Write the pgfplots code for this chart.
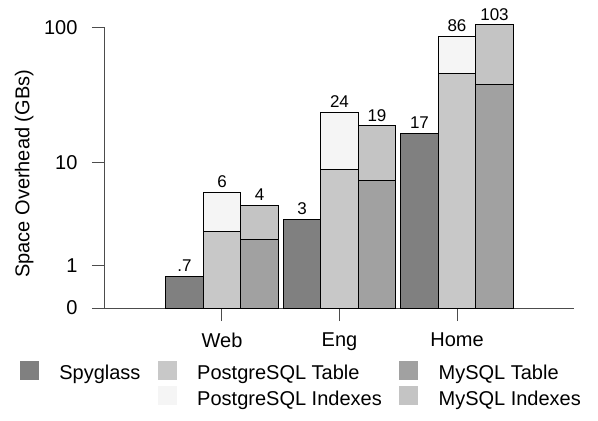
\documentclass[border=0pt]{standalone}
\usepackage{pgfplots}
\pgfplotsset{compat=1.18}
\usepackage{fontspec}
\setmainfont{Liberation Sans}
\definecolor{sgcol}{gray}{0.50}
\definecolor{pgtab}{gray}{0.785}
\definecolor{mytab}{gray}{0.63}
\definecolor{pgidx}{gray}{0.96}
\definecolor{myidx}{gray}{0.77}
\definecolor{axcol}{gray}{0.3}
\pgfplotsset{
  legsq/.style={legend image code/.code={\fill[##1, draw=none] (0pt,-5pt) rectangle (19pt,14pt);}},
  mybar/.style={ybar, bar width=37.5pt, draw=black, line width=1pt},
  barlab/.style={nodes near coords, point meta=explicit symbolic,
     every node near coord/.append style={font=\fontsize{17}{20}\selectfont, anchor=south, inner sep=4pt, black, xshift=#1}},
}
\begin{document}
\begin{tikzpicture}
\useasboundingbox (-105pt,-113pt) rectangle (493pt,308pt);
\begin{axis}[
  at={(0pt,0pt)}, anchor=south west,
  scale only axis, width=469pt, height=280.7pt,
  xmin=-0.9957, xmax=2.9957, ymin=0, ymax=100,
  y coord trafo/.code={\pgfmathparse{ln(#1+1)}},
  clip=false,
  axis x line=bottom, axis y line=left,
  axis line style={-, color=axcol, line width=1pt},
  tick style={color=axcol, line width=1pt},
  tick align=outside, major tick length=13pt,
  xtick={0,1,2}, xticklabels={Web,Eng,Home},
  ytick={0,1,10,100}, yticklabels={0,1,10,100},
  minor tick num=0,
  /pgf/number format/assume math mode=true,
  ticklabel style={font=\fontsize{20}{24}\selectfont},
  yticklabel style={xshift=-11pt},
  xticklabel style={yshift=-8pt},
  ylabel={Space Overhead (GBs)},
  ylabel style={font=\fontsize{20}{24}\selectfont, at={(axis description cs:-0.1614,0.478)}, anchor=base, inner sep=0pt},
  legend columns=3,
  legend cell align=left,
  legend style={at={(axis description cs:-0.18124,-0.1888)}, anchor=north west,
    draw=none, fill=none, inner sep=0pt, outer sep=0pt,
    font=\fontsize{20}{24}\selectfont, row sep=2.4pt,
    nodes={inner sep=0pt, text height=14pt, text depth=4pt},
    /tikz/every odd column/.append style={column sep=20.3pt},
    /tikz/every even column/.append style={column sep=17.5pt}},
]
% PostgreSQL total (table + indexes)
\addplot[mybar, fill=pgidx, bar shift=0pt, forget plot, barlab=0pt] table[meta=lab] {
x y lab
0 5.7 6
1 24 24
2 86.5 86
};
% PostgreSQL table
\addplot[mybar, fill=pgtab, bar shift=0pt, forget plot] coordinates {(0,2.5) (1,8.7) (2,46)};
% MySQL total (table + indexes)
\addplot[mybar, fill=myidx, bar shift=37.5pt, forget plot, barlab=37.5pt] table[meta=lab] {
x y lab
0 4.4 4
1 19 19
2 104 103
};
% MySQL table
\addplot[mybar, fill=mytab, bar shift=37.5pt, forget plot] coordinates {(0,2.1) (1,7.2) (2,38.5)};
% Spyglass
\addplot[mybar, fill=sgcol, bar shift=-37.5pt, forget plot, barlab=-37.5pt] table[meta=lab] {
x y lab
0 0.68 .7
1 3.3 3
2 16.7 17
};
\addlegendimage{legsq, fill=sgcol}
\addlegendentry{Spyglass}
\addlegendimage{legsq, fill=pgtab}
\addlegendentry{PostgreSQL Table}
\addlegendimage{legsq, fill=mytab}
\addlegendentry{MySQL Table}
\addlegendimage{empty legend}
\addlegendentry{}
\addlegendimage{legsq, fill=pgidx}
\addlegendentry{PostgreSQL Indexes}
\addlegendimage{legsq, fill=myidx}
\addlegendentry{MySQL Indexes}
\end{axis}
\end{tikzpicture}
\end{document}
